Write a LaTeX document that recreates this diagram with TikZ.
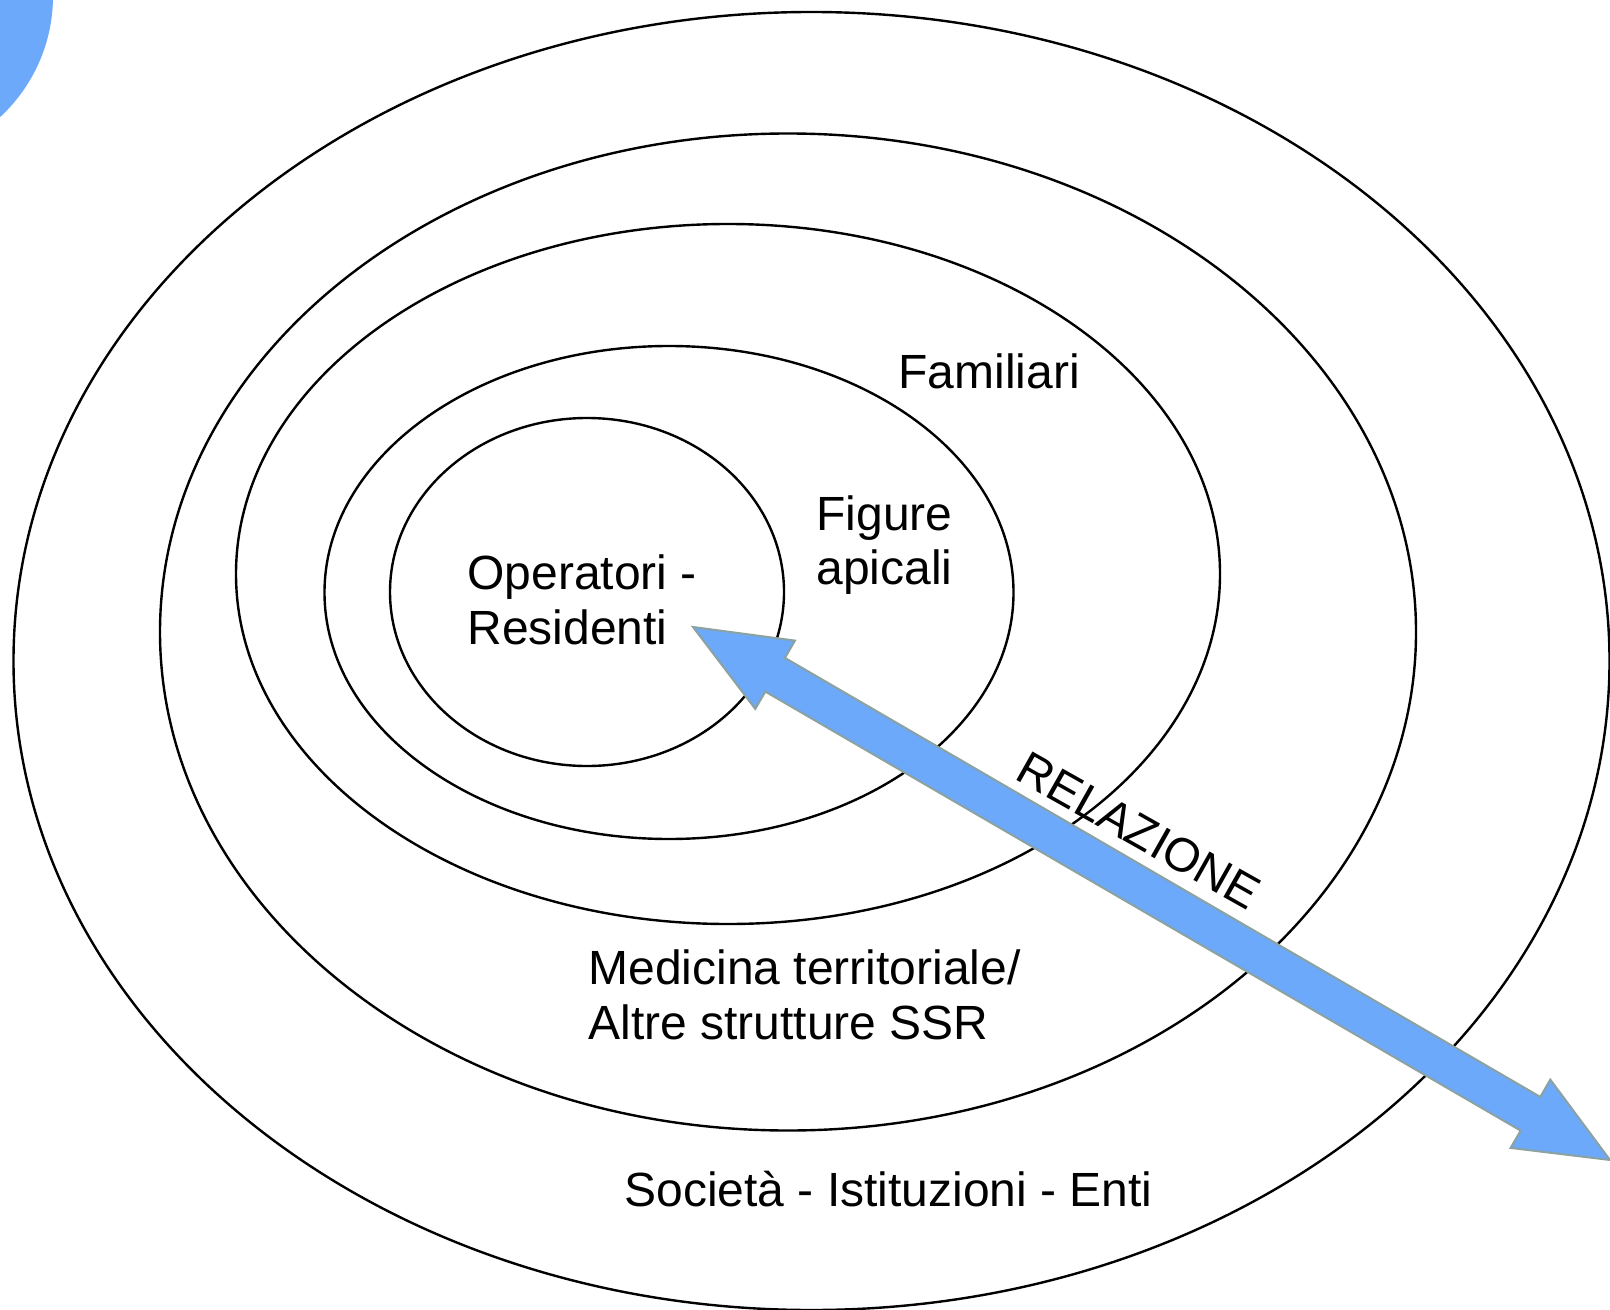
\documentclass[tikz,border=0pt]{standalone}
\usepackage{fontspec}
\setmainfont{Liberation Sans}
\usetikzlibrary{calc}
\definecolor{arrowblue}{RGB}{108,169,250}
\definecolor{arrowedge}{RGB}{140,162,162}
\tikzset{
  ring/.style={draw=black, line width=1.2pt},
  lbl/.style={inner sep=0pt, anchor=base west, font=\fontsize{24pt}{27.5pt}\selectfont},
}
\begin{document}
\begin{tikzpicture}[x=0.5pt, y=-0.5pt]
\useasboundingbox (0,0) rectangle (1610,1310);
\clip (0,0) rectangle (1610,1310);
\fill[white] (0,0) rectangle (1610,1310);
% blue blob top-left
\fill[arrowblue] (-112,-4) circle [radius=82.5pt];
% rings
\draw[ring] (811.5,661) ellipse [x radius=399pt, y radius=324.5pt];
\draw[ring] (788,632) ellipse [x radius=314pt, y radius=249.25pt];
\draw[ring] (728,574) ellipse [x radius=246pt, y radius=175pt];
\draw[ring] (669,592.5) ellipse [x radius=172.25pt, y radius=123.25pt];
\draw[ring] (587,592) ellipse [x radius=98.5pt, y radius=87pt];
% labels
\node[lbl] (fam) at (898,388) {Familiari};
\node[lbl] (fig1) at (816,530) {Figure};
\node[lbl] (fig2) at (816,584) {apicali};
\node[lbl] (op1) at (467,589) {Operatori -};
\node[lbl] (op2) at (467,644) {Residenti};
\node[lbl] (med1) at (588,984) {Medicina territoriale/};
\node[lbl] (med2) at (588,1039) {Altre strutture SSR};
\node[lbl] (soc) at (624,1206) {Società - Istituzioni - Enti};
% arrow
\coordinate (L) at (693,627);
\coordinate (R) at (1610,1160);
\coordinate (Lb) at ($(L)!47.5pt!(R)$);
\coordinate (Rb) at ($(R)!46pt!(L)$);
\filldraw[fill=arrowblue, draw=arrowedge, line width=1pt, line join=miter]
  (L) -- ($(Lb)!19.75pt!90:(R)$) -- ($(Lb)!9.75pt!90:(R)$)
  -- ($(Rb)!9.75pt!-90:(L)$) -- ($(Rb)!19.75pt!-90:(L)$) -- (R)
  -- ($(Rb)!19.75pt!90:(L)$) -- ($(Rb)!9.75pt!90:(L)$)
  -- ($(Lb)!9.75pt!-90:(R)$) -- ($(Lb)!19.75pt!-90:(R)$) -- cycle;
\node[inner sep=0pt, anchor=base, rotate=-29.4, font=\fontsize{23.75pt}{27.5pt}\selectfont] (rel) at (1131,845) {RELAZIONE};
\end{tikzpicture}
\end{document}
